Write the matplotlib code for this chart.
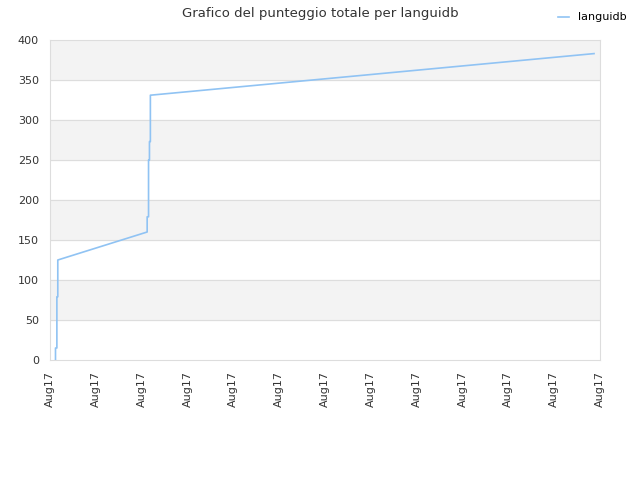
import matplotlib
matplotlib.use("Agg")
import matplotlib.pyplot as plt

# punteggio totale (x in tick units, all ticks read "Aug17")
x_pts = [0.12, 0.12, 0.15, 0.15, 0.17, 0.17, 2.12, 2.12, 2.15, 2.15, 2.17, 2.17, 2.19, 2.19, 11.87]
y_pts = [0, 15, 15, 79, 79, 125, 160, 179, 179, 250, 250, 273, 273, 331, 383]
tick_pos = list(range(13))
tick_labels = ["Aug17"] * 13
series_name = "languidb"

fig = plt.figure(figsize=(6.4, 4.8), dpi=100)
ax = fig.add_axes([50 / 640, 120 / 480, 550 / 640, 320 / 480])

# bande alternate
for lo in (50, 150, 250, 350):
    ax.axhspan(lo, lo + 50, color="#f3f3f3", zorder=0)
for yv in range(50, 400, 50):
    ax.axhline(yv, color="#dddddd", lw=0.8, zorder=1)

ax.plot(x_pts, y_pts, color="#90c3f3", lw=1.2, label=series_name, zorder=3)

ax.set_xlim(0, 12)
ax.set_ylim(0, 400)
ax.set_yticks(range(0, 401, 50))
ax.set_xticks(tick_pos)
ax.set_xticklabels(tick_labels, rotation=90)
ax.tick_params(colors="#333333", labelsize=8, length=0)
ax.tick_params(axis="x", pad=8)
ax.tick_params(axis="y", pad=8)
for s in ax.spines.values():
    s.set_color("#dddddd")

fig.suptitle("Grafico del punteggio totale per languidb", y=0.985, fontsize=9.5, color="#333333")
fig.legend(loc="upper right", bbox_to_anchor=(0.995, 0.995), frameon=False, fontsize=8,
           handlelength=1.0)

fig.savefig("out.png")
